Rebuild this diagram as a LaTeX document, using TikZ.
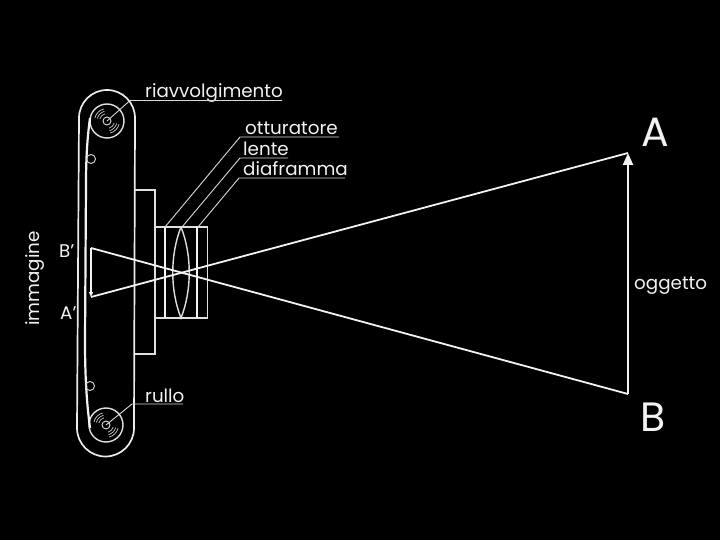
\documentclass[tikz,border=0pt]{standalone}
\usepackage{fontspec}
\setmainfont{Poppins}
\usetikzlibrary{arrows.meta,calc}
\tikzset{
  % contours
  bandline/.style  = {line width=1.7pt, white!92!black},
  bodyline/.style  = {line width=1.4pt, white!88!black},
  filmline/.style  = {line width=2.2pt, white!95!black},
  rayline/.style   = {line width=1.8pt, white!95!black},
  leaderline/.style= {line width=0.9pt, white!85!black},
  grooveline/.style= {line width=0.7pt, white!80!black},
  % labels
  lab/.style       = {font=\fontsize{18.3}{18}\selectfont, text=white!95!black, inner sep=0pt, anchor=base west},
  labbig/.style    = {font=\fontsize{41}{41}\selectfont, text=white!95!black, inner sep=0pt, anchor=base west},
}
\begin{document}
\begin{tikzpicture}[x=1pt,y=-1pt]
  \fill[black] (0,0) rectangle (720,540);
  \useasboundingbox (0,0) rectangle (720,540);
  \coordinate (RT) at (107,121);
  \coordinate (RB) at (106,425);
  \coordinate (A) at (628,153);
  \coordinate (B) at (628,394);
  \coordinate (Ai) at (91,297);
  \coordinate (Bi) at (91,248);
  % band round the film
  \draw[bandline] (79,118) arc[start angle=180,end angle=360,radius=28] -- (134,428)
    arc[start angle=0,end angle=180,radius=28.5] -- cycle;
  % rollers
  \foreach \rol in {RT,RB} {
    \draw[bodyline] (\rol) circle (17);
    \draw[leaderline] (\rol) circle (4);
    \foreach \r in {7.5,10,12.5} {
      \draw[grooveline] ($(\rol)+(195:\r)$) arc[start angle=195,end angle=255,radius=\r];
      \draw[grooveline] ($(\rol)+(15:\r)$) arc[start angle=15,end angle=75,radius=\r];
    }
  }
  % film and guide pins
  \draw[filmline] (90,118) .. controls (87,140) and (86,160) .. (86,185) -- (85,340)
    .. controls (85,380) and (87,405) .. (90,428);
  \draw[leaderline] (91,159) circle (4.5);
  \draw[leaderline] (90,386) circle (4.5);
  % camera body and lens box
  \draw[bodyline] (135,190) -- (155,190) -- (155,354) -- (135,354);
  \draw[bodyline] (155,227) rectangle (207.5,318);
  \draw[filmline] (165,227) -- (165,318);
  \draw[filmline] (197,227) -- (197,318);
  \draw[bodyline] (181,227) .. controls (170,255) and (170,290) .. (181,318)
    .. controls (192,290) and (192,255) .. (181,227);
  % rays and object
  \draw[rayline] (A) -- (Ai);
  \draw[rayline] (Bi) -- (B);
  \draw[-{Stealth[length=5pt,width=4pt,inset=0pt]},rayline] (Bi) -- (Ai);
  \draw[-{Stealth[length=12pt,width=10pt,inset=0pt]},line width=2.2pt,white!95!black] (B) -- (A);
  % labels
  \node[lab] (riav) at (145,98) {riavvolgimento};
  \node[lab] (rullo) at (145,402) {rullo};
  \node[lab] (ottu) at (245,135) {otturatore};
  \node[lab] (lente) at (243,156) {lente};
  \node[lab] (diaf) at (243,176) {diaframma};
  \node[lab] (ogg) at (634,289) {oggetto};
  \node[lab,rotate=90] (imm) at (39,326) {immagine};
  \node[lab] (Bp) at (59,257) {B'};
  \node[lab] (Ap) at (60,319) {A'};
  \node[labbig] (Alab) at (641,147) {A};
  \node[labbig] (Blab) at (640,431) {B};
  % leaders
  \draw[leaderline] (RT) -- (130,100.5) -- (282,100.5);
  \draw[leaderline] (RB) -- (132,404) -- (183,404);
  \draw[leaderline] (165,227) -- (240,137) -- (339,137);
  \draw[leaderline] (182,227) -- (240,158) -- (288,158);
  \draw[leaderline] (198,227) -- (239,178) -- (345,178);
\end{tikzpicture}
\end{document}
